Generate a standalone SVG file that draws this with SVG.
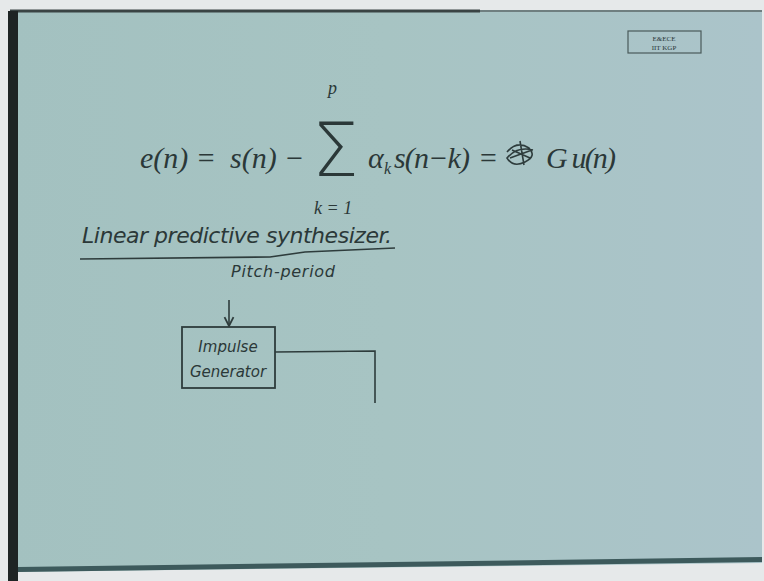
<svg xmlns="http://www.w3.org/2000/svg" width="764" height="581" viewBox="0 0 764 581">
<defs>
<linearGradient id="paper" x1="0" y1="0" x2="1" y2="0">
<stop offset="0" stop-color="#a3c1c0"/>
<stop offset="0.5" stop-color="#a7c4c3"/>
<stop offset="1" stop-color="#abc4ca"/>
</linearGradient>
<marker id="arr" viewBox="0 0 10 10" refX="9" refY="5" markerWidth="7" markerHeight="7" orient="auto">
<path d="M1,1 L9,5 L1,9" fill="none" stroke="#2e3c3c" stroke-width="1.6"/>
</marker>
</defs>
<style>
.ink{fill:#2b3838;font-family:"Liberation Serif",serif;font-style:italic}
.hand{fill:#2b3838;font-family:"DejaVu Sans",sans-serif;font-style:italic}
.ln{stroke:#2e3c3c;stroke-width:1.6;fill:none}
</style>
<rect width="764" height="581" fill="#e6e9ea"/>
<polygon points="10,11 762,11 762,563 10,572" fill="url(#paper)"/>
<line x1="10" y1="11" x2="480" y2="11" stroke="#3a4444" stroke-width="3"/>
<line x1="480" y1="11" x2="762" y2="11" stroke="#6f7f80" stroke-width="2"/>
<rect x="8" y="11" width="10" height="570" fill="#1e2424"/>
<polygon points="18,567 762,557 762,562 18,572" fill="#3d5a5c"/>
<g id="logo">
<rect x="628" y="31" width="73" height="22" fill="none" stroke="#4a5a5a" stroke-width="1.2"/>
<text x="664" y="41" font-size="7" class="ink" text-anchor="middle" style="font-style:normal">E&amp;ECE</text>
<text x="664" y="50" font-size="7" class="ink" text-anchor="middle" style="font-style:normal">IIT KGP</text>
</g>
<g id="formula">
<text x="140" y="168" font-size="30" class="ink">e(n) =</text>
<text x="230" y="168" font-size="30" class="ink">s(n) −</text>
<text x="312" y="176" font-size="74" style="fill:#2b3838;font-family:'DejaVu Sans',sans-serif;font-weight:200">Σ</text>
<text x="328" y="94" font-size="18" class="ink">p</text>
<text x="314" y="214" font-size="18" class="ink">k = 1</text>
<text x="368" y="168" font-size="30" class="ink">α</text>
<text x="384" y="174" font-size="16" class="ink">k</text>
<text x="394" y="168" font-size="30" class="ink" textLength="76">s(n−k)</text>
<text x="478" y="168" font-size="30" class="ink">=</text>
<path d="M507,152 q10,-12 22,-4 q8,8 -4,14 q-12,6 -18,-4 q10,-12 26,-8 M520,141 l4,24 M510,158 l22,-8 M512,150 l18,8" class="ln" stroke-width="3.5" stroke="#223030"/>
<text x="546" y="168" font-size="30" class="ink" textLength="70">G u(n)</text>
</g>
<g id="heading">
<text x="82" y="243" font-size="22" class="hand" textLength="310">Linear predictive synthesizer.</text>
<path d="M80,259 L270,257 L305,252 L395,248" class="ln"/>
</g>
<g id="impulse">
<rect x="182" y="327" width="93" height="61" fill="none" stroke="#2e3c3c" stroke-width="1.8"/>
<text x="228" y="352" font-size="15" class="hand" text-anchor="middle">Impulse</text>
<text x="228" y="377" font-size="15" class="hand" text-anchor="middle">Generator</text>
</g>
<g id="pitch">
<text x="231" y="277" font-size="16" class="hand" textLength="104">Pitch-period</text>
</g>
<g id="connectors">
<line x1="229" y1="300" x2="229" y2="326" class="ln" marker-end="url(#arr)"/>
<path d="M275,352 L375,351 L375,403" class="ln"/>
</g>
</svg>
